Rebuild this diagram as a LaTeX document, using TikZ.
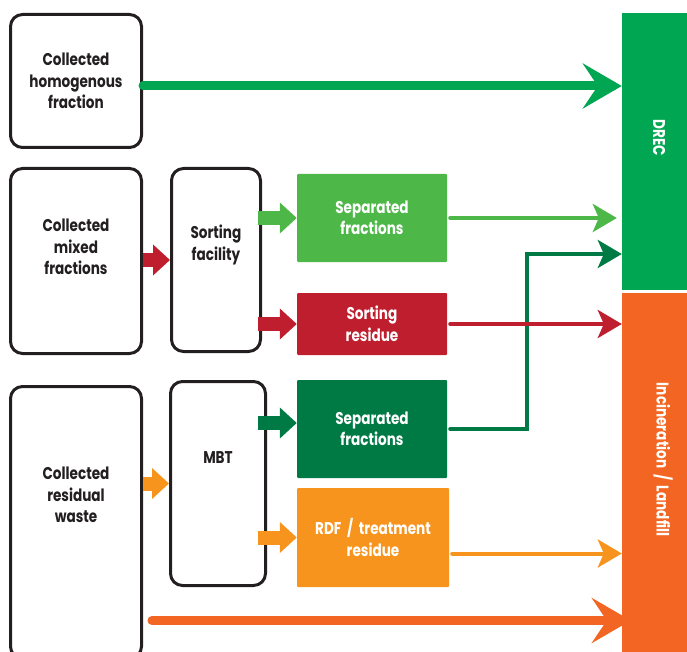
\documentclass[tikz,border=0pt]{standalone}
\usepackage{fontspec}
\setmainfont{Poppins}[BoldFeatures={FakeStretch=0.8}]
\usetikzlibrary{arrows.meta}
\definecolor{drecgreen}{HTML}{00A651}
\definecolor{lightgreen}{HTML}{4DB848}
\definecolor{darkgreen}{HTML}{007A45}
\definecolor{sortred}{HTML}{BE1E2D}
\definecolor{rdforange}{HTML}{F7941D}
\definecolor{incorange}{HTML}{F26522}
\definecolor{boxline}{HTML}{231F20}

\begin{document}
\begin{tikzpicture}[x=1pt,y=-1pt]
\tikzstyle{every node}=[font=\bfseries\fontsize{17}{21.5}\selectfont,align=center,inner sep=0pt,text=boxline]
\tikzstyle{source}=[draw=boxline,line width=3pt,rounded corners=12pt,minimum width=131pt]
\tikzstyle{plant}=[draw=boxline,line width=3pt,rounded corners=12pt]
\tikzstyle{output}=[rounded corners=1pt,minimum width=150pt,text=white]
\tikzstyle{sink}=[minimum width=65pt]
\tikzstyle{feed}=[line width=14pt,-{Triangle[length=17pt,width=30pt]}]
\tikzstyle{flow}=[line width=4pt,line cap=round,shorten <=3pt,-{Stealth[length=24pt,width=28pt,inset=6pt]}]
\tikzstyle{bulk}=[line width=9pt,line cap=round,-{Stealth[length=39pt,width=45pt,inset=15pt]}]
\useasboundingbox (0,0) rectangle (687,652);

\node[source,minimum height=133pt] (hom) at (76,81) {Collected\\homogenous\\fraction};
\node[source,minimum height=185pt] (mix) at (76,261) {};
\node (mixtxt) at (76,247) {Collected\\mixed\\fractions};
\node[source,minimum height=272pt] (res) at (76,522.5) {};
\node (restxt) at (76,495) {Collected\\residual\\waste};
\node[plant,minimum width=89pt,minimum height=183pt] (sort) at (216,260) {};
\node (sorttxt) at (216,245) {Sorting\\facility};
\node[plant,minimum width=95pt,minimum height=204pt] (mbt) at (218,483.5) {};
\node (mbttxt) at (218,458) {MBT};

\node[output,fill=lightgreen,minimum height=88pt] (sepa) at (372,218) {Separated\\fractions};
\node[output,fill=sortred,minimum height=62pt] (resid) at (372,324) {Sorting\\residue};
\node[output,fill=darkgreen,minimum height=98pt] (sepb) at (372,429) {Separated\\fractions};
\node[output,fill=rdforange,minimum width=152pt,minimum height=99pt] (rdf) at (373,537.5) {RDF \,/\, treatment\\residue};

\node[sink,fill=drecgreen,minimum height=277pt] (drec) at (654.5,151.5) {};
\node[rotate=-90,text=white] (dreclbl) at (659,138) {DREC};
\node[sink,fill=incorange,minimum height=365pt] (inc) at (654.5,475.5) {};
\node[rotate=-90,text=white] (inclbl) at (663,460) {Incineration \,/\, Landfill};

\draw[feed,sortred] (mix.east |- sort.west) -- (sort.west);
\draw[feed,rdforange] (mbt.west -| mix.east) -- (mbt.west);
\draw[feed,lightgreen] ([xshift=-39pt]sepa.west) -- (sepa.west);
\draw[feed,sortred] ([xshift=-39pt]resid.west) -- (resid.west);
\draw[feed,darkgreen] ([shift={(-39pt,6pt)}]sepb.west) -- ([yshift=6pt]sepb.west);
\draw[feed,rdforange] ([xshift=-39pt]rdf.west) -- (rdf.west);

\draw[bulk,drecgreen] ([yshift=-5pt]hom.east) -- ([yshift=-5pt]hom.east -| drec.west);
\draw[bulk,incorange] ([shift={(9pt,-98pt)}]res.east) -- ([shift={(9pt,-98pt)}]res.east -| inc.west);

\coordinate (bend) at (527,254);
\draw[flow,lightgreen,shorten >=5pt] (sepa.east) -- (sepa.east -| drec.west);
\draw[flow,darkgreen] (sepb.east) -| (bend) -- (bend -| drec.west);
\draw[flow,sortred] (resid.east) -- (resid.east -| inc.west);
\draw[flow,rdforange] ([yshift=-16pt]rdf.east) -- ([yshift=-16pt]rdf.east -| inc.west);
\end{tikzpicture}
\end{document}
